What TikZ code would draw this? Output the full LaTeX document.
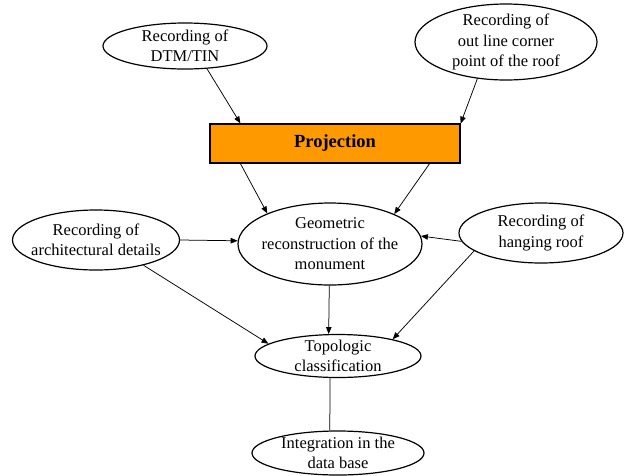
\documentclass[tikz,border=0pt]{standalone}
\usepackage{fontspec}
\setmainfont{Liberation Serif}
\usetikzlibrary{shapes.geometric,arrows.meta}
\begin{document}
\begin{tikzpicture}[x=1pt,y=-1pt,
 txt/.style={align=center,inner sep=0pt,font=\fontsize{16.5}{20.5}\selectfont},
 ell/.style={ellipse,draw,line width=1.2pt,inner sep=0pt,label={[txt]center:#1}},
 arr/.style={-{Triangle[length=7pt,width=5.5pt]},line width=0.75pt},
 ln/.style={line width=0.75pt}]
\useasboundingbox (0,0) rectangle (624,475);
\node[ell={Recording of\\DTM/TIN},minimum width=164pt,minimum height=46pt] (dtm) at (185,46) {};
\node[ell={Recording of\\out line corner\\point of the roof},minimum width=182pt,minimum height=76pt] (outl) at (506,42) {};
\node[draw,line width=1.2pt,fill={rgb,255:red,255;green,153;blue,0},minimum width=250pt,minimum height=39pt,inner sep=0pt,font=\fontsize{18.5}{20}\selectfont\bfseries] (proj) at (335,143.5) {Projection};
\node[ell={Recording of\\architectural details},minimum width=167pt,minimum height=60pt] (arch) at (96,240) {};
\node[ell={Geometric\\reconstruction of the\\monument},minimum width=184pt,minimum height=82pt] (geom) at (330,244) {};
\node[ell={Recording of\\hanging roof},minimum width=164pt,minimum height=60pt] (hang) at (541,233) {};
\node[ell={Topologic\\classification},minimum width=166pt,minimum height=43pt] (topo) at (338,356) {};
\node[ell={Integration in the\\data base},minimum width=172pt,minimum height=44pt] (integ) at (338,453) {};
\draw[arr] (dtm.-46) -- (proj.168.7);
\draw[arr] (outl.-128) -- (proj.9.6);
\draw[arr] (proj.-168.4) -- (geom.154.5);
\draw[arr] (proj.-12.2) -- (geom.25.2);
\draw[arr] (arch.east) -- (geom.178);
\draw[arr] (hang.186) -- (geom.5);
\draw[arr] (geom.-91) -- (topo.113);
\draw[arr] (arch.-28) -- (topo.170.3);
\draw[arr] (hang.-165.3) -- (topo.17.6);
\draw[ln] (topo.-110) -- (integ.110);
\end{tikzpicture}
\end{document}
